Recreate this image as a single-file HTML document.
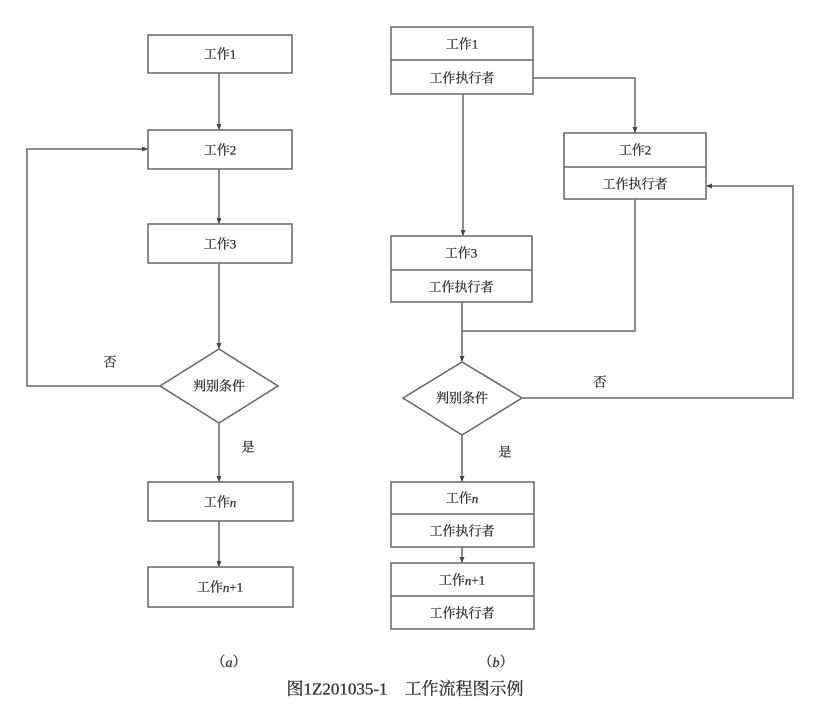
<!DOCTYPE html>
<html><head><meta charset="utf-8"><style>
html,body{margin:0;padding:0;background:#fff;}
svg{display:block;}
text{font-family:"Liberation Serif","Noto Serif CJK SC","Noto Sans CJK SC",serif;fill:#333;stroke:#333;stroke-width:0.3;}
</style></head><body>
<svg width="825" height="709" viewBox="0 0 825 709" xmlns="http://www.w3.org/2000/svg">
<defs>
<marker id="a" markerWidth="6" markerHeight="6" refX="5" refY="3" orient="auto" markerUnits="userSpaceOnUse">
<path d="M0,0.5 L6,3 L0,5.5 z" fill="#444"/></marker>
</defs>
<g stroke="#666" stroke-width="1.5" fill="none">
<rect x="148" y="35" width="144" height="38"/>
<rect x="148" y="130" width="144" height="39"/>
<rect x="148" y="224" width="144" height="39"/>
<polygon points="219,349 278,386 219,423 160,386"/>
<rect x="148" y="482" width="145" height="39"/>
<rect x="148" y="567" width="145" height="40"/>
<line x1="219" y1="73" x2="219" y2="129" marker-end="url(#a)"/>
<line x1="219" y1="169" x2="219" y2="223" marker-end="url(#a)"/>
<line x1="219" y1="263" x2="219" y2="348" marker-end="url(#a)"/>
<polyline points="160,386 27,386 27,149 147,149" marker-end="url(#a)"/>
<line x1="219" y1="423" x2="219" y2="481" marker-end="url(#a)"/>
<line x1="219" y1="521" x2="219" y2="566" marker-end="url(#a)"/>
<rect x="391" y="27" width="142" height="67"/><line x1="391" y1="60" x2="533" y2="60"/>
<rect x="564" y="133" width="142" height="66"/><line x1="564" y1="167" x2="706" y2="167"/>
<rect x="391" y="236" width="141" height="66"/><line x1="391" y1="270" x2="532" y2="270"/>
<polygon points="462,362 522,398 462,435 403,398"/>
<rect x="391" y="482" width="143" height="65"/><line x1="391" y1="514" x2="534" y2="514"/>
<rect x="391" y="563" width="143" height="66"/><line x1="391" y1="596" x2="534" y2="596"/>
<line x1="463" y1="94" x2="463" y2="235" marker-end="url(#a)"/>
<polyline points="533,78 635,78 635,132" marker-end="url(#a)"/>
<polyline points="635,199 635,331 462,331"/>
<line x1="462" y1="302" x2="462" y2="361" marker-end="url(#a)"/>
<polyline points="522,398 793,398 793,186 707,186" marker-end="url(#a)"/>
<line x1="462" y1="435" x2="462" y2="481" marker-end="url(#a)"/>
<line x1="462" y1="547" x2="462" y2="562" marker-end="url(#a)"/>
</g>
<g font-size="13" text-anchor="middle" dominant-baseline="central">
<text x="220" y="54">工作1</text>
<text x="220" y="150">工作2</text>
<text x="220" y="244">工作3</text>
<text x="219" y="386">判别条件</text>
<text x="220" y="502">工作<tspan font-style="italic">n</tspan></text>
<text x="220" y="587">工作<tspan font-style="italic">n</tspan>+1</text>
<text x="110" y="362">否</text>
<text x="248" y="447">是</text>
<text x="462" y="44">工作1</text>
<text x="462" y="78">工作执行者</text>
<text x="635" y="150">工作2</text>
<text x="635" y="184">工作执行者</text>
<text x="461" y="253">工作3</text>
<text x="461" y="287">工作执行者</text>
<text x="462" y="398">判别条件</text>
<text x="600" y="382">否</text>
<text x="505" y="452">是</text>
<text x="462" y="498">工作<tspan font-style="italic">n</tspan></text>
<text x="462" y="531">工作执行者</text>
<text x="462" y="580">工作<tspan font-style="italic">n</tspan>+1</text>
<text x="462" y="613">工作执行者</text>
<text x="229" y="663" font-size="14">（<tspan font-style="italic">a</tspan>）</text>
<text x="496" y="663" font-size="14">（<tspan font-style="italic">b</tspan>）</text>
<text x="405" y="689" font-size="17">图1Z201035-1　工作流程图示例</text>
</g>
</svg>
</body></html>
